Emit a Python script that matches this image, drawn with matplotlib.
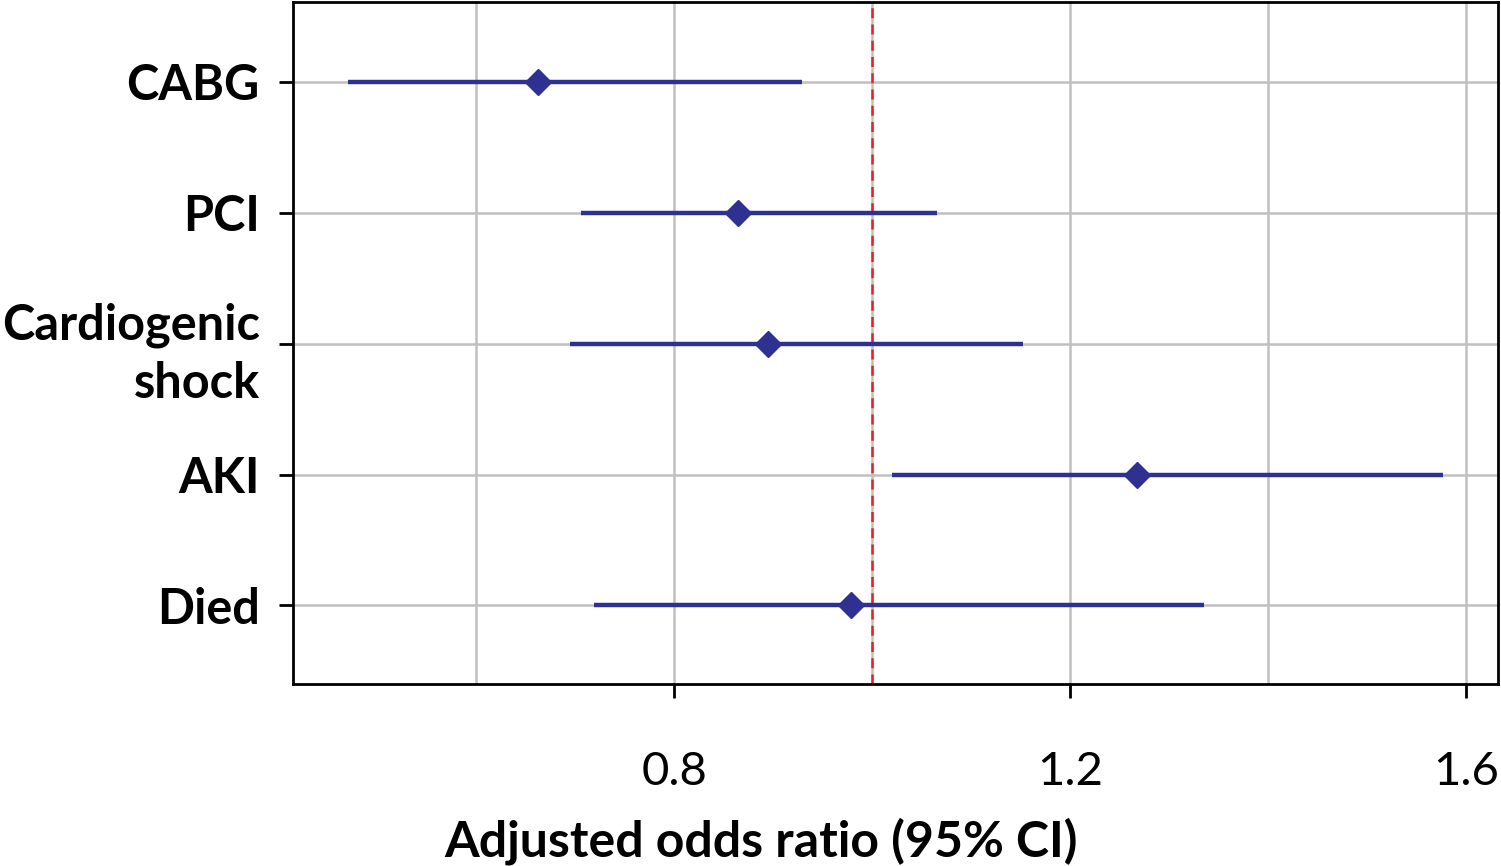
import numpy as np
import matplotlib
matplotlib.use("Agg")
import matplotlib.pyplot as plt
from matplotlib.ticker import FixedLocator

plt.rcParams['font.family'] = ['Lato', 'DejaVu Sans']

outcomes = ["CABG", "PCI", "Cardiogenic\nshock", "AKI", "Died"]
odds_ratio = [0.662, 0.864, 0.895, 1.267, 0.979]
ci_low = [0.471, 0.706, 0.695, 1.020, 0.719]
ci_high = [0.929, 1.065, 1.152, 1.576, 1.335]

major_ticks = [0.8, 1.2, 1.6]
minor_ticks = [0.6, 1.0, 1.4]


def draw_forest_plot():
  fig = plt.figure(figsize=(15.01, 8.66), dpi=100)
  axes = fig.add_axes([293 / 1501, 1 - 684 / 866, (1498 - 293) / 1501, 682 / 866])
  #
  ypos = np.arange(len(outcomes))[::-1]
  or_arr = np.array(odds_ratio)
  xerr = [or_arr - np.array(ci_low), np.array(ci_high) - or_arr]
  axes.errorbar(odds_ratio, ypos, xerr=xerr, fmt='D', color='#2e3192',
                ecolor='#2e3192', elinewidth=3.2, capsize=0, markersize=13,
                zorder=3)
  axes.axvline(1.0, color='#ee1c24', linestyle=(0, (4, 2.5)), linewidth=1.8,
               zorder=2)
  #
  axes.set_xlim(0.415, 1.632)
  axes.set_ylim(-0.6, 4.61)
  axes.set_yticks(ypos)
  axes.set_yticklabels(outcomes, fontsize=35, fontweight='bold',
                       linespacing=1.35)
  axes.xaxis.set_major_locator(FixedLocator(major_ticks))
  axes.xaxis.set_minor_locator(FixedLocator(minor_ticks))
  axes.set_xticklabels(["0.8", "1.2", "1.6"], fontsize=34)
  axes.tick_params(axis='x', which='major', length=10, width=2, pad=38)
  axes.tick_params(axis='x', which='minor', length=0)
  axes.tick_params(axis='y', length=10, width=2, pad=14)
  axes.grid(True, which='both', color='#c0c0c0', linewidth=1.8, zorder=0)
  axes.set_axisbelow(True)
  for spine in axes.spines.values():
    spine.set_linewidth(2)
  axes.set_xlabel('Adjusted odds ratio (95% CI)', fontsize=36,
                  fontweight='bold', labelpad=14)
  axes.xaxis.set_label_coords((761 - 293) / 1205, -0.195)
  #
  fig.savefig('out.png', dpi=100)


draw_forest_plot()
